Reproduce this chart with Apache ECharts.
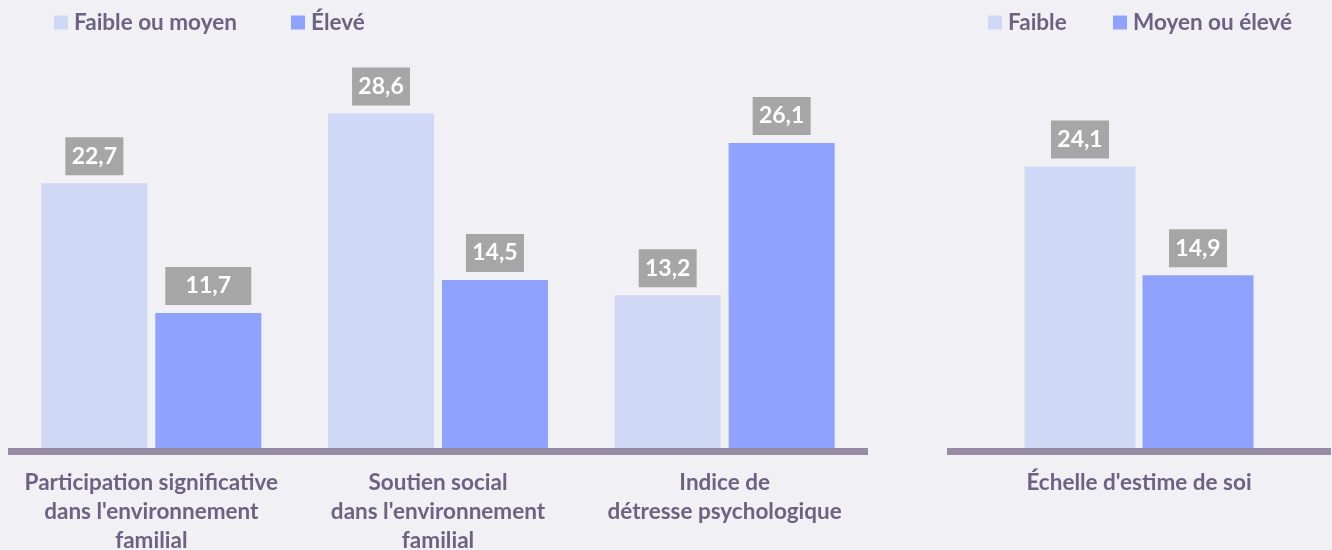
<!DOCTYPE html>
<html>
<head>
<meta charset="utf-8">
<script src="https://cdn.jsdelivr.net/npm/echarts@6/dist/echarts.min.js"></script>
<style>
html,body{margin:0;padding:0;background:#f1f0f5;}
#chart{width:1332px;height:550px;}
</style>
</head>
<body>
<div id="chart"></div>
<script>
// Data
const leftCategories = ["Participation significative\ndans l'environnement\nfamilial", "Soutien social\ndans l'environnement\nfamilial", "Indice de\ndétresse psychologique"];
const leftSeriesNames = ["Faible ou moyen", "Élevé"];
const leftLow = [22.7, 28.6, 13.2];
const leftHigh = [11.7, 14.5, 26.1];

const rightCategories = ["Échelle d'estime de soi"];
const rightSeriesNames = ["Faible", "Moyen ou élevé"];
const rightLow = [24.1];
const rightHigh = [14.9];

const LIGHT = '#cfd8f5';
const DARK = '#8fa3fe';
const TEXT = '#6b6381';
const FONT = 'Lato, "Open Sans", sans-serif';

function fmt(p){ return p.value.toFixed(1).replace('.', ','); }

const labelStyle = {
  show: true, position: 'top', distance: 8,
  backgroundColor: '#a6a6a6', color: '#ffffff',
  fontFamily: FONT, fontWeight: 'bold', fontSize: 23,
  lineHeight: 20, width: 58, align: 'center',
  padding: [9, 0, 9, 0], formatter: fmt
};

function mkData(arr, wideIdx){
  return arr.map((v, i) => (wideIdx === i ? {value: v, label: {width: 86}} : v));
}

const chart = echarts.init(document.getElementById('chart'));
const legendBase = {
  top: 11, itemWidth: 14, itemHeight: 14, icon: 'rect', itemGap: 0, padding: 0,
  selectedMode: false,
  textStyle: {color: TEXT, fontFamily: FONT, fontWeight: 'bold', fontSize: 22.5, padding: [0, 0, 0, 1]}
};
const xAxisBase = {
  type: 'category', z: 5,
  axisLine: {show: true, lineStyle: {color: '#958ca3', width: 7, cap: 'butt'}},
  axisTick: {show: false},
  axisLabel: {color: TEXT, fontFamily: FONT, fontWeight: 'bold', fontSize: 22.5, lineHeight: 29, margin: 17, interval: 0}
};
chart.setOption({
  backgroundColor: '#f1f0f5',
  animation: false,
  legend: [
    Object.assign({}, legendBase, {left: 54, data: [leftSeriesNames[0]]}),
    Object.assign({}, legendBase, {left: 291, data: [leftSeriesNames[1]]}),
    Object.assign({}, legendBase, {left: 988, data: [rightSeriesNames[0]]}),
    Object.assign({}, legendBase, {left: 1113, data: [rightSeriesNames[1]]})
  ],
  grid: [
    {left: 8, right: 464, top: 97, bottom: 99, containLabel: false, outerBoundsMode: 'none'},
    {left: 947, right: 1, top: 97, bottom: 99, containLabel: false, outerBoundsMode: 'none'}
  ],
  xAxis: [
    Object.assign({}, xAxisBase, {gridIndex: 0, data: leftCategories}),
    Object.assign({}, xAxisBase, {gridIndex: 1, data: rightCategories})
  ],
  yAxis: [
    {gridIndex: 0, type: 'value', min: 0, max: 30, show: false, splitLine: {show: false}},
    {gridIndex: 1, type: 'value', min: 0, max: 30, show: false, splitLine: {show: false}}
  ],
  series: [
    {name: leftSeriesNames[0], type: 'bar', xAxisIndex: 0, yAxisIndex: 0, data: mkData(leftLow, -1),
     barWidth: 106, barGap: '7.5%', itemStyle: {color: LIGHT}, label: labelStyle},
    {name: leftSeriesNames[1], type: 'bar', xAxisIndex: 0, yAxisIndex: 0, data: mkData(leftHigh, 0),
     barWidth: 106, barGap: '7.5%', itemStyle: {color: DARK}, label: labelStyle},
    {name: rightSeriesNames[0], type: 'bar', xAxisIndex: 1, yAxisIndex: 1, data: mkData(rightLow, -1),
     barWidth: 111, barGap: '6.3%', itemStyle: {color: LIGHT}, label: labelStyle},
    {name: rightSeriesNames[1], type: 'bar', xAxisIndex: 1, yAxisIndex: 1, data: mkData(rightHigh, -1),
     barWidth: 111, barGap: '6.3%', itemStyle: {color: DARK}, label: labelStyle}
  ]
});
</script>
</body>
</html>
